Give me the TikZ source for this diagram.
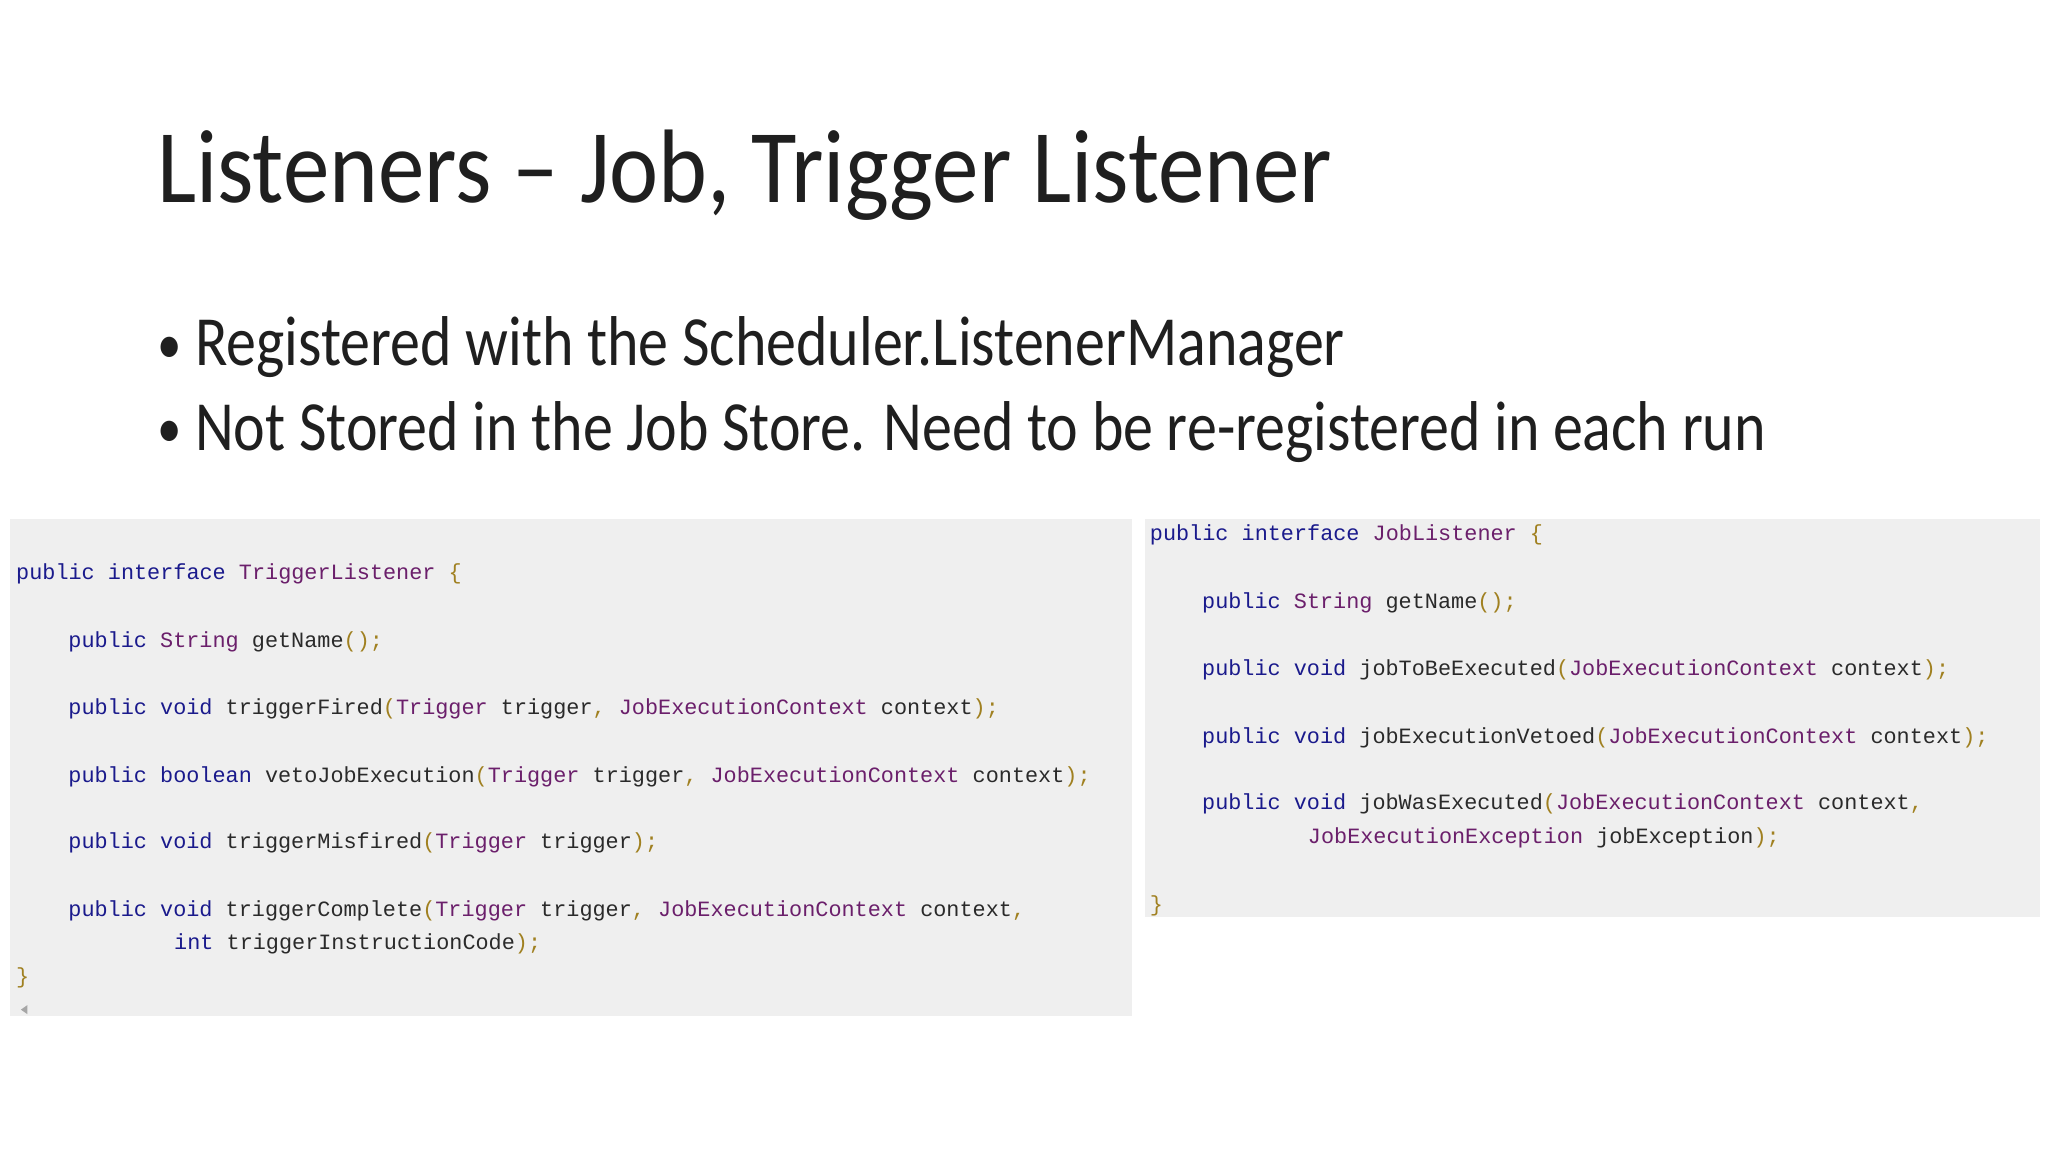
\documentclass[tikz,border=0pt]{standalone}
\usepackage{fontspec}
\setmainfont{Carlito}
\newfontfamily\titlef[FakeStretch=0.89]{Carlito}
\newfontfamily\bulf[FakeStretch=0.85]{Carlito}
\newfontfamily\codef{Liberation Mono}
\definecolor{kwc}{HTML}{1A1A8C}
\definecolor{tyc}{HTML}{6B1F6B}
\definecolor{puc}{HTML}{A08020}
\definecolor{idc}{HTML}{2A2A2A}
\definecolor{panel}{HTML}{EFEFEF}
\newcommand\kw[1]{\textcolor{kwc}{#1}}
\newcommand\ty[1]{\textcolor{tyc}{#1}}
\newcommand\pu[1]{\textcolor{puc}{#1}}
\begin{document}
\begin{tikzpicture}[x=0.5pt,y=-0.5pt,
  code/.style={anchor=base west,inner sep=0pt,font=\codef\fontsize{8.36pt}{10pt}\selectfont,text=idc},
  bul/.style={anchor=base west,inner sep=0pt,font=\bulf\fontsize{27pt}{32pt}\selectfont,text=black!88}]
\useasboundingbox (0,0) rectangle (1568,882);
\fill[white] (0,0) rectangle (1568,882);
\fill[panel] (8,397) rectangle (867,778);
\fill[panel] (877,397) rectangle (1562,702);
\node[anchor=base west,inner sep=0pt,font=\titlef\fontsize{40pt}{48pt}\selectfont,text=black!88] (title) at (120,155) {Listeners – Job, Trigger Listener};
\node[bul,font=\bulf\fontsize{22pt}{26pt}\selectfont] (b1d) at (120,278) {•};
\node[bul] (b1) at (149,280) {Registered with the Scheduler.ListenerManager};
\node[bul,font=\bulf\fontsize{22pt}{26pt}\selectfont] (b2d) at (120,343) {•};
\node[bul] (b2) at (149,345) {Not Stored in the Job Store. Need to be re-registered in each run};
% left panel
\node[code] (l1) at (12,444) {\kw{public interface} \ty{TriggerListener} \pu{\{}};
\node[code] (l2) at (52,496) {\kw{public} \ty{String} getName\pu{();}};
\node[code] (l3) at (52,547) {\kw{public void} triggerFired\pu{(}\ty{Trigger} trigger\pu{,} \ty{JobExecutionContext} context\pu{);}};
\node[code] (l4) at (52,599) {\kw{public boolean} vetoJobExecution\pu{(}\ty{Trigger} trigger\pu{,} \ty{JobExecutionContext} context\pu{);}};
\node[code] (l5) at (52,650) {\kw{public void} triggerMisfired\pu{(}\ty{Trigger} trigger\pu{);}};
\node[code] (l6) at (52,702) {\kw{public void} triggerComplete\pu{(}\ty{Trigger} trigger\pu{,} \ty{JobExecutionContext} context\pu{,}};
\node[code] (l7) at (133,727) {\kw{int} triggerInstructionCode\pu{);}};
\node[code] (l8) at (12,753) {\pu{\}}};
\fill[gray!70] (16,773) -- (21,769.5) -- (21,776.5) -- cycle;
% right panel
\node[code] (r1) at (880,414) {\kw{public interface} \ty{JobListener} \pu{\{}};
\node[code] (r2) at (920,466) {\kw{public} \ty{String} getName\pu{();}};
\node[code] (r3) at (920,517) {\kw{public void} jobToBeExecuted\pu{(}\ty{JobExecutionContext} context\pu{);}};
\node[code] (r4) at (920,569) {\kw{public void} jobExecutionVetoed\pu{(}\ty{JobExecutionContext} context\pu{);}};
\node[code] (r5) at (920,620) {\kw{public void} jobWasExecuted\pu{(}\ty{JobExecutionContext} context\pu{,}};
\node[code] (r6) at (1001,646) {\ty{JobExecutionException} jobException\pu{);}};
\node[code] (r7) at (880,698) {\pu{\}}};
\end{tikzpicture}
\end{document}
